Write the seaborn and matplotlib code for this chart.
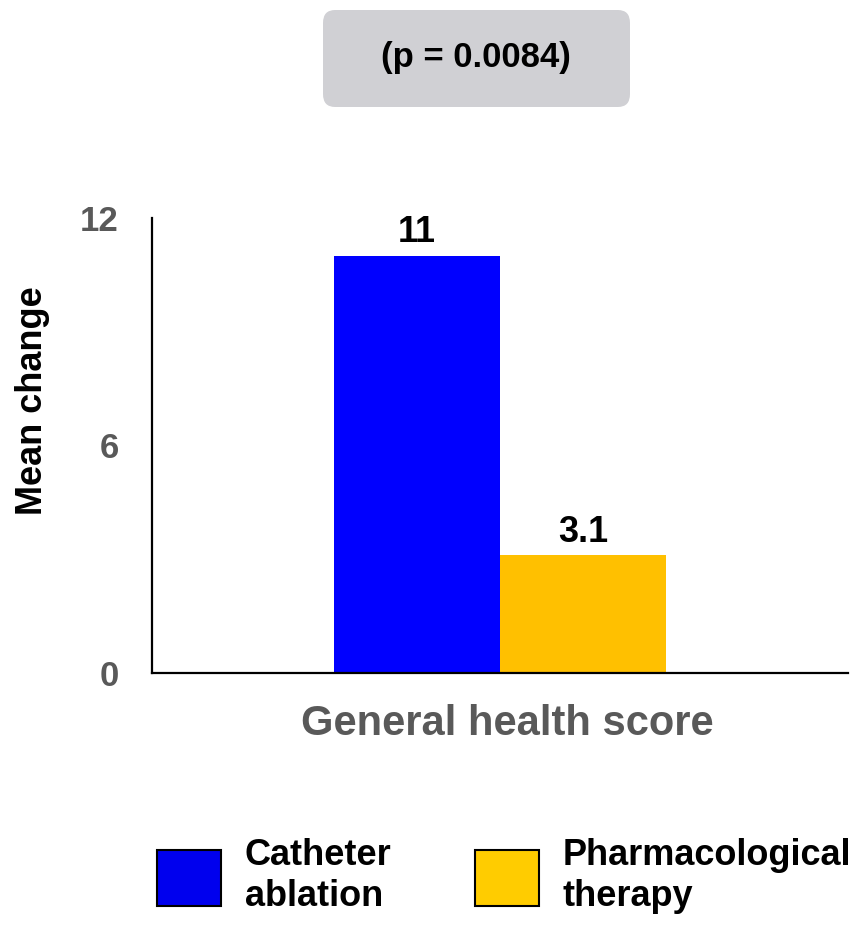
import matplotlib
matplotlib.use("Agg")
import matplotlib.pyplot as plt
import matplotlib.patches as mpatches
import seaborn as sns
import pandas as pd

categories = ["General health score"]
treatments = ["Catheter ablation", "Pharmacological therapy"]
legend_labels = ["Catheter\nablation", "Pharmacological\ntherapy"]
values = [11, 3.1]
value_labels = ["11", "3.1"]
yticks = [0, 6, 12]
bar_colors = ["#0000FF", "#FFC000"]
legend_colors = ["#0000EE", "#FFCC00"]
p_text = "(p = 0.0084)"

sns.set_theme(style="white")
plt.rcParams["font.family"] = ["Liberation Sans", "DejaVu Sans"]
plt.rcParams["font.weight"] = "bold"
plt.rcParams["text.color"] = "black"

df = pd.DataFrame({"cat": categories * len(treatments), "treat": treatments, "val": values})

fig = plt.figure(figsize=(8.63, 9.25), dpi=100)
ax = fig.add_axes([152 / 863, 1 - 673 / 925, 696 / 863, 455 / 925])

sns.barplot(data=df, x="cat", y="val", hue="treat", palette=bar_colors,
            hue_order=treatments, ax=ax, width=0.8, saturation=1, legend=False,
            linewidth=0, edgecolor="none")

for cont, lab in zip(ax.containers, value_labels):
    ax.bar_label(cont, labels=[lab], padding=4, fontsize=26, fontweight="bold", color="black")

ax.set_ylim(0, 12)
ax.set_xlim(-0.84, 0.84)
ax.set_yticks(yticks)
ax.set_yticklabels([str(t) for t in yticks], fontsize=25, fontweight="bold", color="#595959")
ax.tick_params(axis="y", length=0, pad=24)
ax.set_xticks([])
for s in ["top", "right"]:
    ax.spines[s].set_visible(False)
for s in ["left", "bottom"]:
    ax.spines[s].set_color("black")
    ax.spines[s].set_linewidth(1.6)

ax.set_ylabel("Mean change", fontsize=26, fontweight="bold", color="black")
ax.yaxis.set_label_coords(-0.172, 0.598)
ax.yaxis.label.set_verticalalignment("center")
ax.set_xlabel("General health score", fontsize=30, fontweight="bold", color="#595959")
ax.xaxis.set_label_coords(0.51, -0.112)
ax.xaxis.label.set_verticalalignment("center")

# p-value box
box = mpatches.FancyBboxPatch((323 / 863, 1 - 107 / 925), 307 / 863, 97 / 925,
                              boxstyle="round,pad=0,rounding_size=0.014",
                              transform=fig.transFigure, facecolor="#D0D0D4",
                              edgecolor="none")
fig.patches.append(box)
fig.text(476 / 863, 1 - 58 / 925, p_text, ha="center", va="center",
         fontsize=25, fontweight="bold", color="black")

handles = [mpatches.Patch(facecolor=c, edgecolor="black", linewidth=1.5) for c in legend_colors]
fs = 26
leg = fig.legend(handles, legend_labels, loc="center left", ncol=2, frameon=False,
                 bbox_to_anchor=(157 / 863, 1 - 876 / 925), borderaxespad=0, borderpad=0,
                 handlelength=64 / 36.1, handleheight=2.0, handletextpad=0.66,
                 columnspacing=2.3, prop={"size": fs, "weight": "bold"}, labelspacing=0)
for t in leg.get_texts():
    t.set_color("black")

fig.savefig("out.png", dpi=100)
